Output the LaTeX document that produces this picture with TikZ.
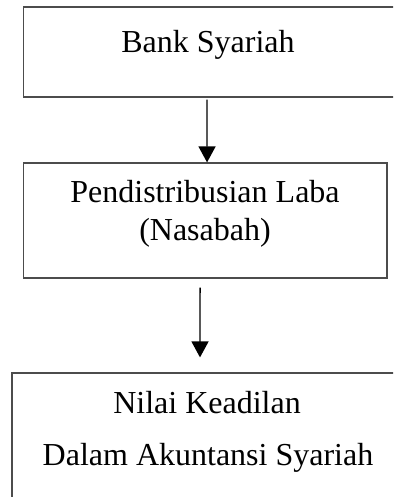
\documentclass[tikz,border=0pt]{standalone}
\usepackage{fontspec}
\setmainfont{Liberation Serif}
\usetikzlibrary{arrows.meta,positioning}

\begin{document}
\begin{tikzpicture}[x=0.5pt,y=-0.5pt,
  box/.style={draw=black!70,line width=0.6pt,rectangle,inner sep=0pt},
  txt/.style={font=\fontsize{16}{19}\selectfont,anchor=base,inner sep=0pt},
  arr/.style={-{Triangle[length=8pt,width=8.5pt]},line width=0.7pt}]
\useasboundingbox (0,0) rectangle (393,497);
\clip (0,0) rectangle (393,497);

% Boxes
\node[box,minimum width=188pt,minimum height=45pt] (bank) at (211.5,52) {};
\node[box,minimum width=181.75pt,minimum height=57.5pt] (laba) at (205.25,220.5) {};
\node[box,minimum width=200pt,minimum height=80pt] (nilai) at (212,453) {};

% Texts
\node[txt] (bank-t) at (208,53) {Bank Syariah};
\node[txt] (laba-t1) at (205,203) {Pendistribusian Laba};
\node[txt] (laba-t2) at (205,240) {(Nasabah)};
\node[txt] (nilai-t1) at (207,413) {Nilai Keadilan};
\node[txt] (nilai-t2) at (208,465) {Dalam Akuntansi Syariah};

% Arrows
\draw[arr] ([xshift=-2.25pt,yshift=-1pt]bank.south) -- ([xshift=0.9pt]laba.north);
\draw[arr] ([xshift=-2.6pt,yshift=-4.5pt]laba.south) -- ([xshift=-6pt,yshift=7.5pt]nilai.north);
\end{tikzpicture}
\end{document}
